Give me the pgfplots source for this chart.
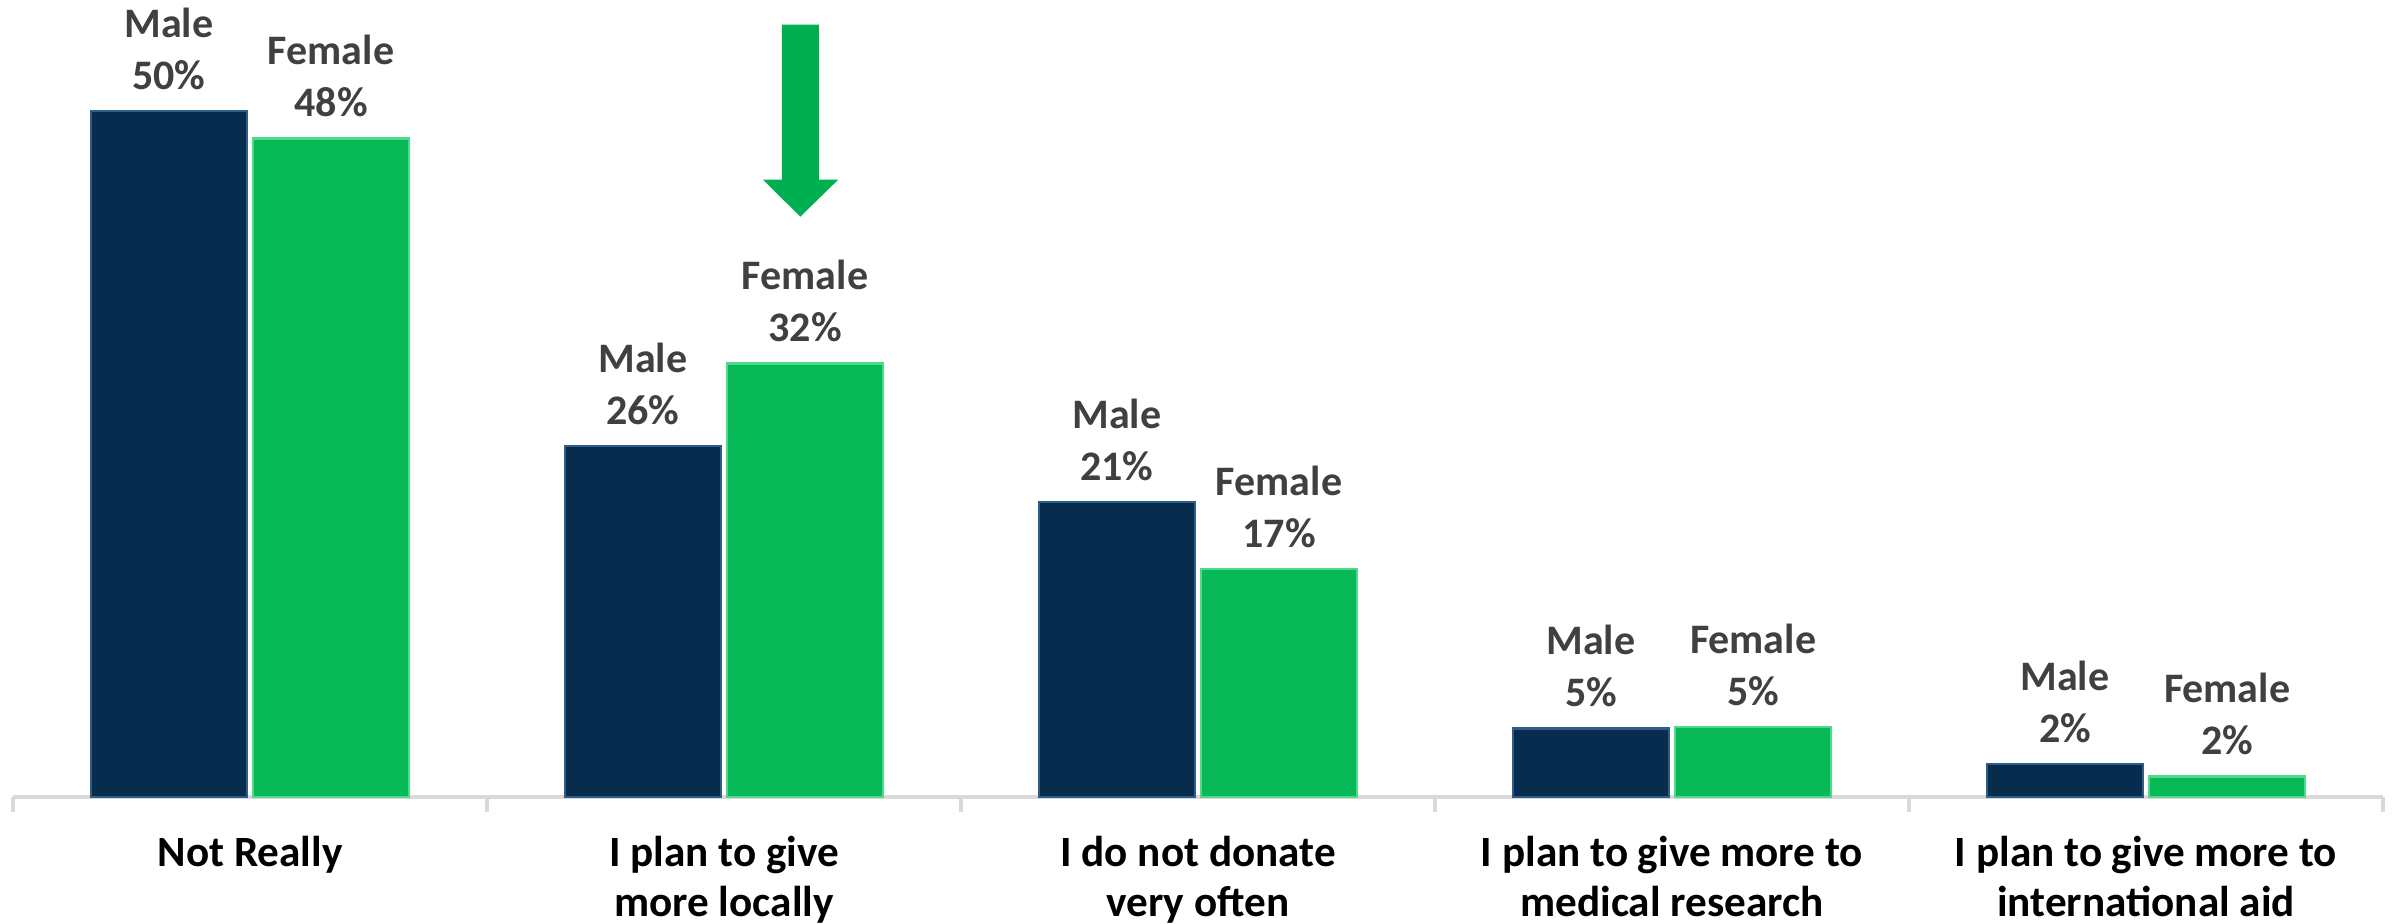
\documentclass[border=0pt]{standalone}
\usepackage{fontspec}
\setmainfont{Carlito}
\usepackage{pgfplots}
\pgfplotsset{compat=1.18}
\definecolor{navy}{HTML}{072C4E}
\definecolor{navyedge}{HTML}{2E5D87}
\definecolor{grn}{HTML}{07BA57}
\definecolor{grnedge}{HTML}{4FD98A}
\definecolor{arrowgreen}{HTML}{00B050}
\definecolor{lbl}{HTML}{404040}
\definecolor{axgray}{HTML}{D9D9D9}
\begin{document}
\begin{tikzpicture}
\useasboundingbox (-3.25pt,-31.5pt) rectangle (595.25pt,199.25pt);
\begin{axis}[
  at={(0,0)}, anchor=south west,
  width=592.5pt, height=198.94pt, scale only axis,
  xmin=-0.5, xmax=4.5, ymin=0, ymax=58,
  hide y axis,
  axis x line*=bottom,
  x axis line style={axgray, line width=0.9pt},
  xtick={0,1,2,3,4},
  major tick length=0pt,
  minor xtick={-0.5,0.5,1.5,2.5,3.5,4.5},
  minor tick length=3.75pt,
  tick align=outside,
  minor tick style={axgray, line width=0.9pt},
  xticklabels={Not Really, {I plan to give\\more locally}, {I do not donate\\very often}, {I plan to give more to\\medical research}, {I plan to give more to\\international aid}},
  xticklabel style={font=\fontsize{10.8}{12.5}\selectfont\bfseries, align=center, text=black, inner sep=0pt, yshift=-9.7pt},
  ybar, bar width=0.329,
  point meta=explicit symbolic,
  every node near coord/.append style={font=\fontsize{10.5}{13}\selectfont\bfseries, text=lbl, align=center, anchor=south, inner sep=0pt, yshift=5pt},
  clip=false,
]
\addplot[ybar, bar shift=-0.171, fill=navy, draw=navyedge, line width=0.6pt,
  nodes near coords={Male\\\pgfplotspointmeta\%}]
  coordinates {(0,50) [50] (1,25.6) [26] (2,21.5) [21] (3,5.0) [5] (4,2.4) [2]};
\addplot[ybar, bar shift=0.171, fill=grn, draw=grnedge, line width=0.6pt,
  nodes near coords={Female\\\pgfplotspointmeta\%}]
  coordinates {(0,48) [48] (1,31.6) [32] (2,16.6) [17] (3,5.1) [5] (4,1.5) [2]};
\fill[arrowgreen] (axis cs:1.122,56.3) -- (axis cs:1.200,56.3) -- (axis cs:1.200,45.0) -- (axis cs:1.241,45.0) -- (axis cs:1.161,42.3) -- (axis cs:1.082,45.0) -- (axis cs:1.122,45.0) -- cycle;
\end{axis}
\end{tikzpicture}
\end{document}
